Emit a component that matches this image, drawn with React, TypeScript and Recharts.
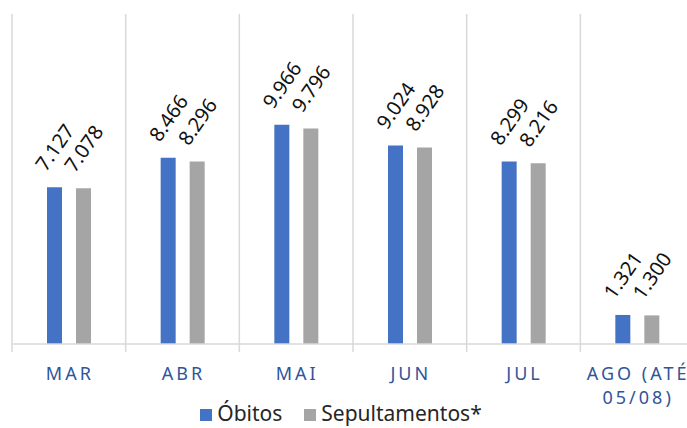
import React from "react";
import {
  BarChart,
  Bar,
  XAxis,
  YAxis,
  CartesianGrid,
  Legend,
  LabelList,
} from "recharts";

// Values
const categories = ["MAR", "ABR", "MAI", "JUN", "JUL", "AGO (ATÉ 05/08)"];
const tickLines = [["MAR"], ["ABR"], ["MAI"], ["JUN"], ["JUL"], ["AGO (ATÉ", "05/08)"]];
const obitos = [7127, 8466, 9966, 9024, 8299, 1321];
const sepultamentos = [7078, 8296, 9796, 8928, 8216, 1300];

const CHART_W = 700;
const CHART_H = 428;
const MARGIN = { top: 14, right: 6, left: 12, bottom: 0 };
const BAND = (CHART_W - MARGIN.left - MARGIN.right) / categories.length;

const FONT = "'Noto Sans', 'Open Sans', sans-serif";
const GRID = "#d9d9d9";

const data = categories.map((name, i) => ({
  name,
  obitos: obitos[i],
  sepultamentos: sepultamentos[i],
}));

// pt-BR thousands separator
const fmt = (v: number) => String(v).replace(/\B(?=(\d{3})+(?!\d))/g, ".");

const RotatedLabel = (props: any) => {
  const { x, y, width, value } = props;
  const cx = x + width / 2;
  const cy = y - 40;
  return (
    <text
      x={cx}
      y={cy}
      textAnchor="middle"
      dominantBaseline="central"
      transform={`rotate(-55, ${cx}, ${cy})`}
      fontFamily={FONT}
      fontSize={20}
      fill="#111"
    >
      {fmt(value)}
    </text>
  );
};

const CategoryTick = (props: any) => {
  const { x, y, index } = props;
  const lines = tickLines[index] || [];
  const left = x - BAND / 2;
  return (
    <g>
      <line x1={left} x2={left} y1={y} y2={y + 8} stroke={GRID} strokeWidth={1.5} />
      {index === categories.length - 1 && (
        <line x1={x + BAND / 2} x2={x + BAND / 2} y1={y} y2={y + 8} stroke={GRID} strokeWidth={1.5} />
      )}
      {lines.map((t: string, i: number) => (
        <text
          key={i}
          x={x + 1}
          y={y + 36 + i * 24}
          textAnchor="middle"
          fontFamily={FONT}
          fontSize={18}
          letterSpacing={3}
          fill="#2F559A"
        >
          {t}
        </text>
      ))}
    </g>
  );
};

const LegendContent = () => {
  const items = [
    { label: "Óbitos", color: "#4472C4" },
    { label: "Sepultamentos*", color: "#A5A5A5" },
  ];
  return (
    <div
      style={{
        display: "flex",
        justifyContent: "center",
        alignItems: "center",
        gap: 22,
        fontFamily: FONT,
        fontSize: 21,
        lineHeight: "28px",
        color: "#262626",
      }}
    >
      {items.map((it) => (
        <div key={it.label} style={{ display: "flex", alignItems: "center", gap: 5 }}>
          <span style={{ width: 12, height: 12, background: it.color, display: "inline-block", marginTop: 4 }} />
          <span>{it.label}</span>
        </div>
      ))}
    </div>
  );
};

export default function App() {
  return (
    <div
      style={{
        position: "absolute",
        left: 0,
        top: 0,
        width: 687,
        height: 428,
        overflow: "hidden",
        background: "#fff",
      }}
    >
      <BarChart
        width={CHART_W}
        height={CHART_H}
        data={data}
        margin={MARGIN}
        barSize={15}
        barGap={14}
      >
        <CartesianGrid
          horizontal={false}
          stroke={GRID}
          strokeWidth={1.5}
          verticalCoordinatesGenerator={({ offset }: any) =>
            [...categories, ""].map((_, i) => offset.left + (i * offset.width) / categories.length)
          }
        />
        <XAxis
          dataKey="name"
          height={84}
          tickSize={0}
          tickMargin={0}
          tickLine={false}
          interval={0}
          axisLine={{ stroke: GRID, strokeWidth: 1.5 }}
          tick={<CategoryTick />}
        />
        <YAxis hide domain={[0, 15000]} />
        <Legend
          verticalAlign="middle"
          align="center"
          content={<LegendContent />}
          wrapperStyle={{ position: "absolute", top: 399, left: 0, width: 682, height: 28 }}
        />
        <Bar dataKey="obitos" name="Óbitos" fill="#4472C4" isAnimationActive={false}>
          <LabelList dataKey="obitos" content={<RotatedLabel />} />
        </Bar>
        <Bar dataKey="sepultamentos" name="Sepultamentos*" fill="#A5A5A5" isAnimationActive={false}>
          <LabelList dataKey="sepultamentos" content={<RotatedLabel />} />
        </Bar>
      </BarChart>
    </div>
  );
}
